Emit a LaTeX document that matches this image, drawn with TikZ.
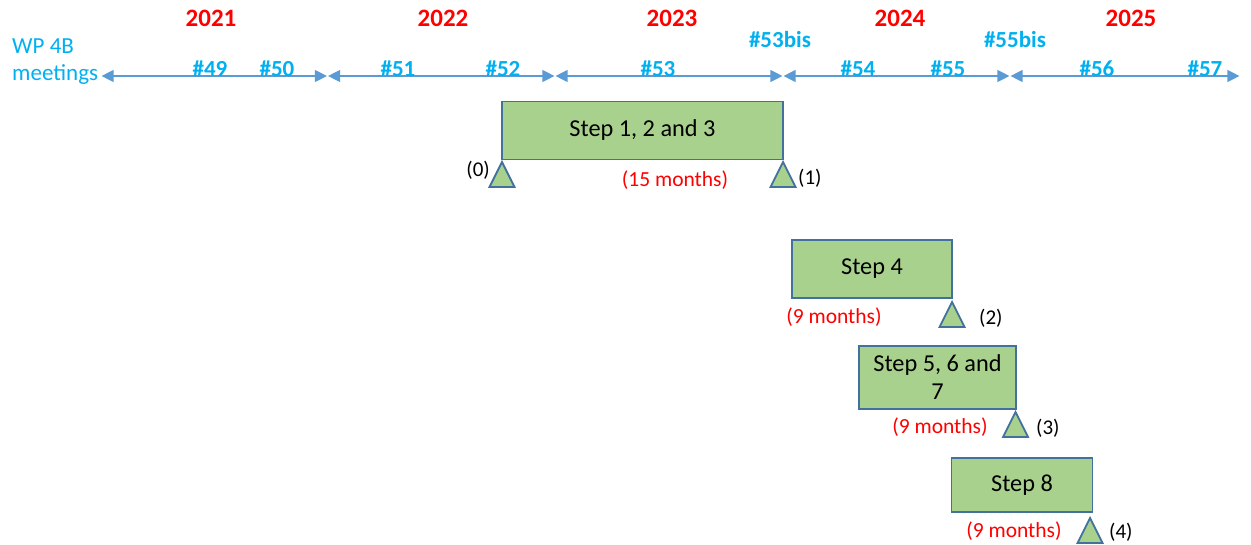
\documentclass[tikz,border=0pt]{standalone}
\usepackage{fontspec}
\setmainfont{Carlito}
\usetikzlibrary{arrows.meta}
\definecolor{yrred}{HTML}{FF0000}
\definecolor{mtgblue}{HTML}{00B0F0}
\definecolor{axisc}{HTML}{5B9BD5}
\definecolor{boxfill}{HTML}{A9D18E}
\definecolor{boxline}{HTML}{41719C}
\begin{document}
\begin{tikzpicture}[x=1pt,y=-1pt,
 year/.style={text=yrred, font=\fontsize{25}{30}\selectfont\bfseries, inner sep=0},
 meeting/.style={text=mtgblue, font=\fontsize{23}{28}\selectfont\bfseries, inner sep=0},
 axisseg/.style={draw=axisc, line width=1.3pt, {Triangle[length=12pt,width=12pt]}-{Triangle[length=12pt,width=12pt]}, shorten <=0.6pt, shorten >=0.6pt},
 stepbox/.style={draw=boxline, fill=boxfill, line width=1.8pt, font=\fontsize{24.3}{28}\selectfont, inner sep=0, align=center},
 milestone/.style={draw=boxline, fill=boxfill, line width=1.8pt, line join=miter},
 dur/.style={text=yrred, font=\fontsize{21.5}{25}\selectfont, inner sep=0},
 mlabel/.style={text=black, font=\fontsize{21}{25}\selectfont, inner sep=0},
]
\fill[white] (0,0) rectangle (1251,545);
\useasboundingbox (0,0) rectangle (1251,545);

% years
\node[year] (y2021) at (211,18) {2021};
\node[year] (y2022) at (443,18) {2022};
\node[year] (y2023) at (672,18) {2023};
\node[year] (y2024) at (900,18) {2024};
\node[year] (y2025) at (1131,18) {2025};

% left label
\node[text=mtgblue, font=\fontsize{23}{27}\selectfont, inner sep=0, align=left, anchor=west] (wp) at (12,62) {WP 4B\\meetings};

% axis
\coordinate (a0) at (101,76);
\coordinate (a1) at (327.5,76);
\coordinate (a2) at (555,76);
\coordinate (a3) at (783,76);
\coordinate (a4) at (1010,76);
\coordinate (a5) at (1240,76);
\draw[axisseg] (a0) -- (a1);
\draw[axisseg] (a1) -- (a2);
\draw[axisseg] (a2) -- (a3);
\draw[axisseg] (a3) -- (a4);
\draw[axisseg] (a4) -- (a5);

% meetings
\node[meeting] (m49) at (210,69) {\#49};
\node[meeting] (m50) at (277,69) {\#50};
\node[meeting] (m51) at (398,69) {\#51};
\node[meeting] (m52) at (503,69) {\#52};
\node[meeting] (m53) at (658,69) {\#53};
\node[meeting] (m53b) at (780,40) {\#53bis};
\node[meeting] (m54) at (858,69) {\#54};
\node[meeting] (m55) at (948,69) {\#55};
\node[meeting] (m55b) at (1015,40) {\#55bis};
\node[meeting] (m56) at (1097,69) {\#56};
\node[meeting] (m57) at (1205,69) {\#57};

% step boxes
\node[stepbox, minimum width=281pt, minimum height=58pt] (s123) at (642.5,130.5) {Step 1, 2 and 3};
\node[stepbox, minimum width=160pt, minimum height=58pt] (s4) at (872,269) {Step 4};
\node[stepbox, minimum width=157pt, minimum height=63pt] (s567) at (937.5,377.5) {Step 5, 6 and\\7};
\node[stepbox, minimum width=141pt, minimum height=54pt] (s8) at (1022,485) {Step 8};

% milestones
\coordinate (t0) at (502,162);
\coordinate (t1) at (783,162);
\coordinate (t2) at (952,302);
\coordinate (t3) at (1015.5,412);
\coordinate (t4) at (1090,518);
\foreach \t in {t0,t1,t2,t3,t4}
  \draw[milestone] (\t) -- ++(12.5,25) -- ++(-25,0) -- cycle;

\node[mlabel, anchor=east] (l0) at (490,170) {(0)};
\node[mlabel, anchor=west] (l1) at (798,178.5) {(1)};
\node[mlabel, anchor=west] (l2) at (979,318) {(2)};
\node[mlabel, anchor=west] (l3) at (1036,428.5) {(3)};
\node[mlabel, anchor=west] (l4) at (1109,532.5) {(4)};

\node[dur] (d1) at (675,180.5) {(15 months)};
\node[dur] (d2) at (834,317.5) {(9 months)};
\node[dur] (d3) at (940,427.5) {(9 months)};
\node[dur] (d4) at (1014,531.5) {(9 months)};
\end{tikzpicture}
\end{document}
